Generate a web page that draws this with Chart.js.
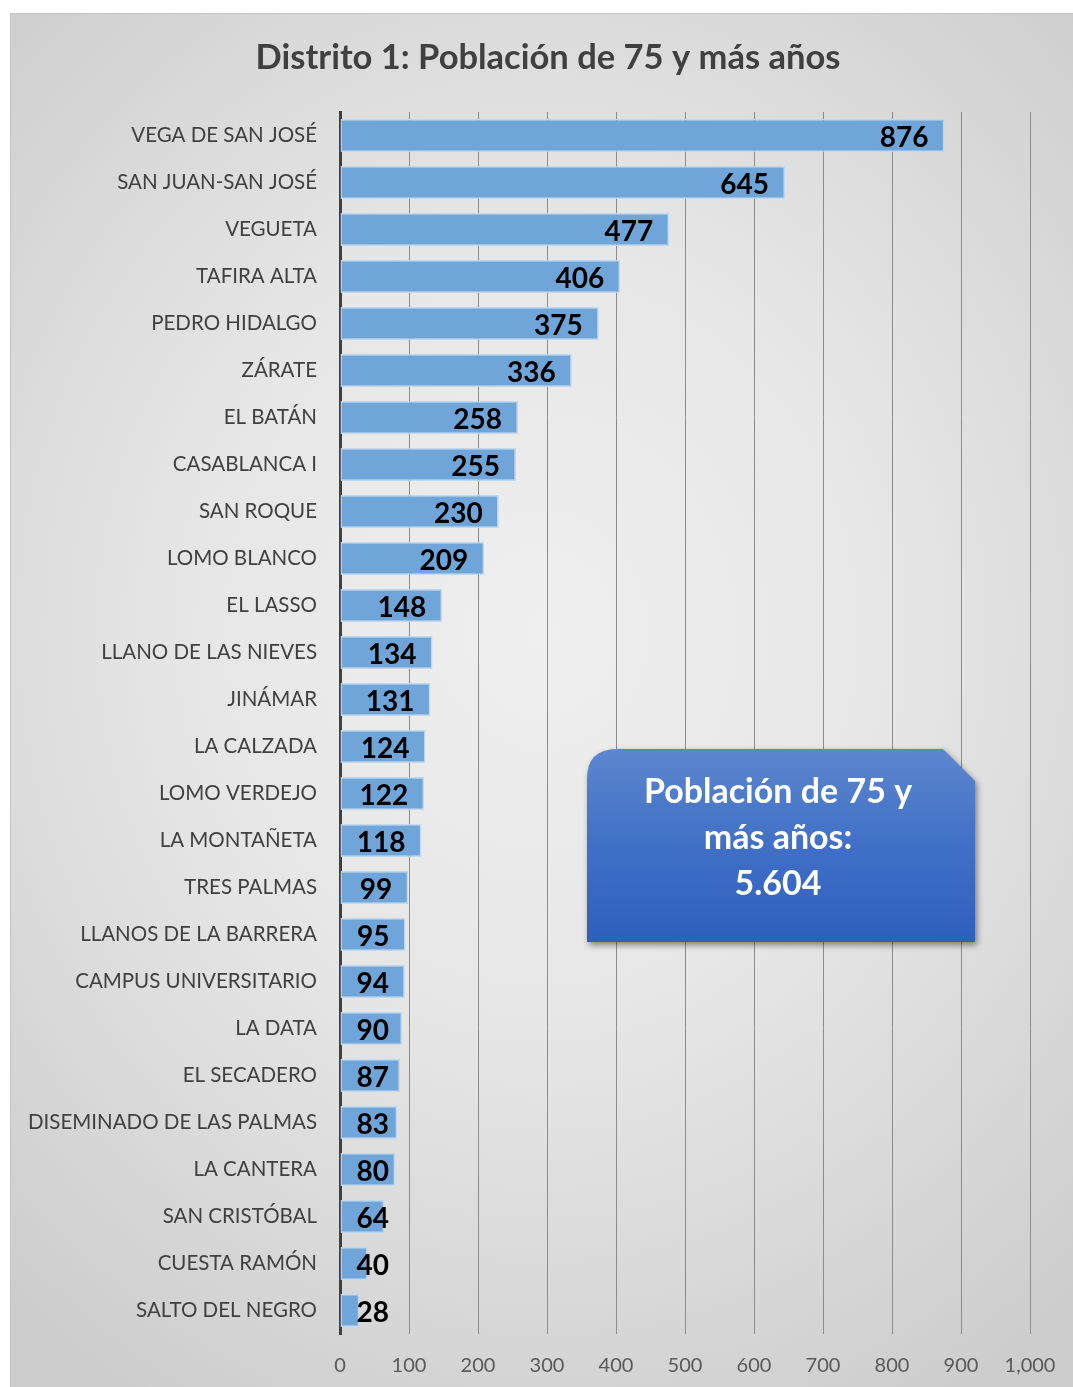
<!DOCTYPE html>
<html>
<head>
<meta charset="utf-8">
<script src="https://cdn.jsdelivr.net/npm/chart.js@4"></script>
<style>
    html, body { margin: 0; padding: 0; background: #ffffff; }
    #panel {
        position: absolute;
        left: 10px;
        top: 13px;
        width: 1063px;
        height: 1374px;
        background: radial-gradient(ellipse 75% 65% at 50% 45%, #efefef 0%, #e6e6e6 45%, #cdcdcd 100%);
        box-shadow: inset 1px 1px 0 #c4c4c4;
    }
    #chart { display: block; }
</style>
</head>
<body>
<div id="panel"><canvas id="chart" width="1063" height="1374"></canvas></div>
<script>
// Categories and values (Distrito 1, 75+ years)
const barrios = [
    'VEGA DE SAN JOSÉ', 'SAN JUAN-SAN JOSÉ', 'VEGUETA', 'TAFIRA ALTA', 'PEDRO HIDALGO',
    'ZÁRATE', 'EL BATÁN', 'CASABLANCA I', 'SAN ROQUE', 'LOMO BLANCO', 'EL LASSO',
    'LLANO DE LAS NIEVES', 'JINÁMAR', 'LA CALZADA', 'LOMO VERDEJO', 'LA MONTAÑETA',
    'TRES PALMAS', 'LLANOS DE LA BARRERA', 'CAMPUS UNIVERSITARIO', 'LA DATA',
    'EL SECADERO', 'DISEMINADO DE LAS PALMAS', 'LA CANTERA', 'SAN CRISTÓBAL',
    'CUESTA RAMÓN', 'SALTO DEL NEGRO'
];
const poblacion = [
    876, 645, 477, 406, 375, 336, 258, 255, 230, 209, 148, 134, 131, 124, 122, 118,
    99, 95, 94, 90, 87, 83, 80, 64, 40, 28
];
const xTicks = [0, 100, 200, 300, 400, 500, 600, 700, 800, 900, 1000];
const titulo = 'Distrito 1: Población de 75 y más años';
const calloutLines = ['Población de 75 y', 'más años:'];

const total = poblacion.reduce((a, b) => a + b, 0);
const totalText = String(total).replace(/\B(?=(\d{3})+(?!\d))/g, '.');

// Title drawn by hand so it can sit a bit right of the canvas centre, like the original
const titlePlugin = {
    id: 'titlePlugin',
    afterDraw(chart) {
        const ctx = chart.ctx;
        ctx.save();
        ctx.font = 'bold 34.5px Lato';
        ctx.fillStyle = '#404040';
        ctx.textAlign = 'center';
        ctx.textBaseline = 'middle';
        ctx.fillText(titulo, 538, 45);
        ctx.restore();
    }
};

// Value labels: inside the bar end, pushed right when the bar is too short
const valueLabels = {
    id: 'valueLabels',
    afterDatasetsDraw(chart) {
        const ctx = chart.ctx;
        const meta = chart.getDatasetMeta(0);
        ctx.save();
        ctx.font = 'bold 28px Lato';
        ctx.fillStyle = '#000000';
        ctx.textAlign = 'right';
        ctx.textBaseline = 'middle';
        meta.data.forEach((bar, i) => {
            const txt = String(poblacion[i]);
            const w = ctx.measureText(txt).width;
            const right = Math.max(bar.x - 16, bar.base + 16 + w);
            ctx.fillText(txt, right, bar.y + 2);
        });
        ctx.restore();
    }
};

// Blue callout box with the total
const callout = {
    id: 'callout',
    afterDraw(chart) {
        const ctx = chart.ctx;
        const x0 = 577, y0 = 736, x1 = 965, y1 = 929;
        const r = 30, cut = 32;
        const shape = () => {
            ctx.beginPath();
            ctx.moveTo(x0 + r, y0);
            ctx.lineTo(x1 - cut, y0);
            ctx.lineTo(x1, y0 + cut);
            ctx.lineTo(x1, y1);
            ctx.lineTo(x0, y1);
            ctx.lineTo(x0, y0 + r);
            ctx.quadraticCurveTo(x0, y0, x0 + r, y0);
            ctx.closePath();
        };
        ctx.save();
        ctx.shadowColor = 'rgba(0, 0, 0, 0.45)';
        ctx.shadowBlur = 6;
        ctx.shadowOffsetX = 2;
        ctx.shadowOffsetY = 3;
        const grad = ctx.createLinearGradient(0, y0, 0, y1);
        grad.addColorStop(0, '#5c86ce');
        grad.addColorStop(0.5, '#4070c6');
        grad.addColorStop(1, '#2e5fbd');
        ctx.fillStyle = grad;
        shape();
        ctx.fill();
        ctx.restore();

        ctx.save();
        ctx.fillStyle = '#ffffff';
        ctx.font = 'bold 34px Lato';
        ctx.textAlign = 'center';
        ctx.textBaseline = 'middle';
        const cx = 768;
        const lines = calloutLines.concat([totalText]);
        lines.forEach((line, i) => {
            ctx.fillText(line, cx, 779 + i * 46);
        });
        ctx.restore();
    }
};

Chart.defaults.font.family = 'Lato';

new Chart(document.getElementById('chart'), {
    type: 'bar',
    data: {
        labels: barrios,
        datasets: [{
            data: poblacion,
            backgroundColor: '#6fa5d8',
            borderColor: 'rgba(190, 215, 240, 0.95)',
            borderWidth: 1.5,
            borderSkipped: false,
            categoryPercentage: 1,
            barPercentage: 0.7
        }]
    },
    options: {
        indexAxis: 'y',
        responsive: false,
        animation: false,
        layout: {
            padding: { left: 0, right: 43, top: 99, bottom: 0 }
        },
        plugins: {
            legend: { display: false },
            tooltip: { enabled: false },
            title: { display: false }
        },
        scales: {
            x: {
                min: 0,
                max: 1000,
                afterBuildTicks: (scale) => {
                    scale.ticks = xTicks.map(v => ({ value: v }));
                },
                afterFit: (scale) => {
                    scale.height = 53;
                    // the tick padding should only move labels down, not shrink the plot
                    scale.paddingLeft = 0;
                    scale.paddingRight = 0;
                },
                ticks: {
                    color: '#595959',
                    font: { size: 20 },
                    padding: 20,
                    maxRotation: 0,
                    callback: (v) => v.toLocaleString('en-US')
                },
                grid: {
                    color: '#8c8c8c',
                    lineWidth: 1,
                    drawTicks: false
                },
                border: { display: false }
            },
            y: {
                afterFit: (scale) => { scale.width = 330; },
                ticks: {
                    color: '#404040',
                    font: { size: 20.5 },
                    padding: 23
                },
                grid: { display: false, drawTicks: false },
                border: { display: true, color: '#404040', width: 3 }
            }
        }
    },
    plugins: [valueLabels, callout, titlePlugin]
});
</script>
</body>
</html>
